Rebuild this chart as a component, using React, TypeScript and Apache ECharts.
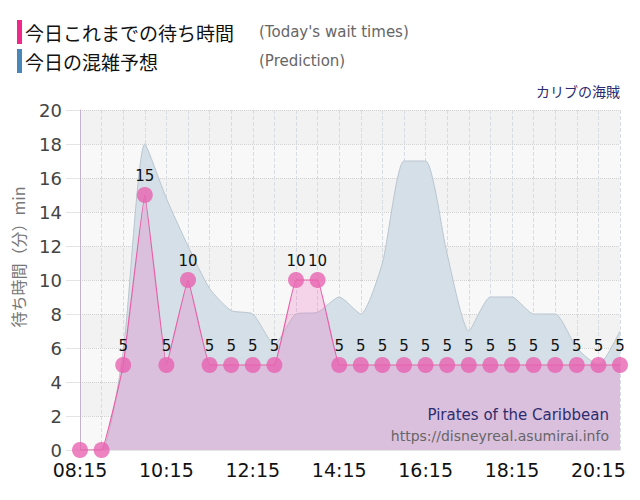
import React, { useEffect, useRef } from "react";
import * as echarts from "echarts";

const times = [
  "08:15", "08:45", "09:15", "09:45", "10:15", "10:45", "11:15", "11:45", "12:15", "12:45",
  "13:15", "13:45", "14:15", "14:45", "15:15", "15:45", "16:15", "16:45", "17:15", "17:45",
  "18:15", "18:45", "19:15", "19:45", "20:15", "20:45",
];
const todayWait = [0, 0, 5, 15, 5, 10, 5, 5, 5, 5, 10, 10, 5, 5, 5, 5, 5, 5, 5, 5, 5, 5, 5, 5, 5, 5];
const prediction = [0, 0, 5.8, 18, 14.8, 12, 9.5, 8.2, 8, 6.2, 8, 8.1, 9, 8, 11, 17, 17, 11.5, 7, 9, 9, 8, 8, 6, 5, 7];
const yTicks = { min: 0, max: 20, interval: 2 };

export default function App() {
  const ref = useRef<HTMLDivElement>(null);
  useEffect(() => {
    if (!ref.current) return;
    const chart = echarts.init(ref.current, null, { renderer: "svg" });
    const font = "DejaVu Sans, Verdana, sans-serif";
    const cjk = "Noto Sans CJK JP, sans-serif";
    chart.setOption({
      animation: false,
      grid: { left: 80, right: 20, top: 110, bottom: 50 },
      xAxis: {
        type: "category",
        data: times,
        boundaryGap: false,
        axisLine: { show: true, lineStyle: { color: "#e6e6e6" } },
        axisTick: { show: false },
        axisLabel: { interval: 3, color: "#111", fontSize: 19, fontFamily: font, margin: 10 },
        splitLine: { show: true, interval: 0, lineStyle: { color: "#d6dce2", type: "dashed" } },
      },
      yAxis: {
        type: "value",
        min: yTicks.min,
        max: yTicks.max,
        interval: yTicks.interval,
        axisLine: { show: true, lineStyle: { color: "#c4b2cf" } },
        axisTick: { show: true, length: 14, inside: false, lineStyle: { color: "#e4e4e4" } },
        axisLabel: { color: "#444", fontSize: 18, fontFamily: font, margin: 18 },
        splitLine: { show: true, lineStyle: { color: "#d2d2d2", type: "dotted" } },
        splitArea: { show: true, areaStyle: { color: ["#f8f8f8", "#f2f2f2"] } },
      },
      graphic: [
        { type: "rect", shape: { x: 17, y: 20, width: 5, height: 24 }, style: { fill: "#f0288c" } },
        { type: "text", x: 25, y: 32, style: { text: "今日これまでの待ち時間", fontSize: 19, fontFamily: cjk, fill: "#111", verticalAlign: "middle" } },
        { type: "text", x: 259, y: 32, style: { text: "(Today's wait times)", fontSize: 15, fontFamily: font, fill: "#666", verticalAlign: "middle" } },
        { type: "rect", shape: { x: 17, y: 49, width: 5, height: 24 }, style: { fill: "#4a86b8" } },
        { type: "text", x: 25, y: 61, style: { text: "今日の混雑予想", fontSize: 19, fontFamily: cjk, fill: "#111", verticalAlign: "middle" } },
        { type: "text", x: 259, y: 61, style: { text: "(Prediction)", fontSize: 15, fontFamily: font, fill: "#666", verticalAlign: "middle" } },
        { type: "text", x: 620, y: 91, style: { text: "カリブの海賊", fontSize: 14, fontFamily: cjk, fill: "#2a2a70", align: "right", verticalAlign: "middle" } },
        { type: "text", x: 18, y: 257, rotation: Math.PI / 2, style: { text: "待ち時間（分）min", fontSize: 16, fontFamily: cjk, fill: "#777", align: "center", verticalAlign: "middle" } },
        { type: "text", x: 609, y: 415, z: 100, style: { text: "Pirates of the Caribbean", fontSize: 15, fontFamily: font, fill: "#2d2d6e", align: "right", verticalAlign: "middle" } },
        { type: "text", x: 609, y: 436, z: 100, style: { text: "https://disneyreal.asumirai.info", fontSize: 14, fontFamily: font, fill: "#666", align: "right", verticalAlign: "middle" } },
      ],
      series: [
        {
          type: "line",
          data: prediction,
          smooth: 0.2,
          symbol: "none",
          lineStyle: { color: "#b9c5cf", width: 1 },
          areaStyle: { color: "#d5dfe7", opacity: 1 },
          z: 2,
        },
        {
          type: "line",
          data: todayWait,
          smooth: 0.08,
          symbol: "circle",
          symbolSize: 16,
          showAllSymbol: true,
          itemStyle: { color: "rgba(232,96,176,0.78)" },
          lineStyle: { color: "#e860a8", width: 1.2 },
          areaStyle: { color: "rgba(240,100,190,0.35)" },
          label: {
            show: true,
            position: "top",
            distance: 4,
            color: "#111",
            fontSize: 15,
            fontFamily: font,
            formatter: (p: any) => (p.value === 0 ? "" : String(p.value)),
          },
          labelLayout: { hideOverlap: false },
          z: 3,
        },
      ],
    });
    return () => chart.dispose();
  }, []);
  return <div ref={ref} style={{ width: 640, height: 500, position: "absolute", left: 0, top: 0 }} />;
}
